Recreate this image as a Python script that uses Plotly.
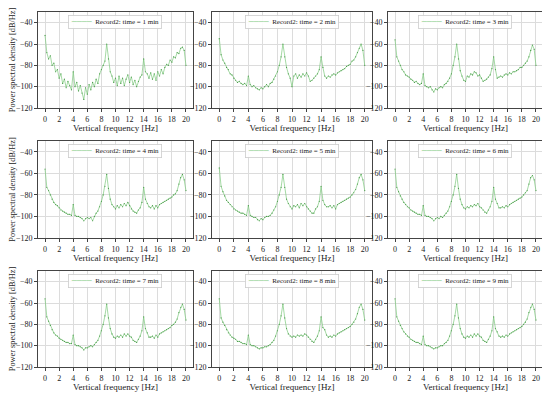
import plotly.graph_objects as go

FREQ = [0.0, 0.25, 0.5, 0.75, 1.0, 1.25, 1.5, 1.75, 2.0, 2.25,
        2.5, 2.75, 3.0, 3.25, 3.5, 3.75, 4.0, 4.25, 4.5, 4.75,
        5.0, 5.25, 5.5, 5.75, 6.0, 6.25, 6.5, 6.75, 7.0, 7.25,
        7.5, 7.75, 8.0, 8.25, 8.5, 8.75, 9.0, 9.25, 9.5, 9.75,
        10.0, 10.25, 10.5, 10.75, 11.0, 11.25, 11.5, 11.75, 12.0, 12.25,
        12.5, 12.75, 13.0, 13.25, 13.5, 13.75, 14.0, 14.25, 14.5, 14.75,
        15.0, 15.25, 15.5, 15.75, 16.0, 16.25, 16.5, 16.75, 17.0, 17.25,
        17.5, 17.75, 18.0, 18.25, 18.5, 18.75, 19.0, 19.25, 19.5, 19.75,
        20.0]

PSD_1 = [-52, -68, -74, -71, -80, -78, -86, -84, -92, -88,
         -97, -93, -101, -95, -99, -103, -86, -100, -96, -104,
         -99, -106, -112, -101, -107, -98, -103, -96, -100, -93,
         -97, -88, -84, -80, -76, -60, -74, -86, -90, -96,
         -92, -99, -90, -97, -92, -99, -93, -89, -96, -91,
         -98, -94, -100, -95, -91, -89, -74, -86, -88, -92,
         -87, -93, -88, -94, -86, -90, -84, -88, -82, -79,
         -80, -75, -77, -72, -73, -68, -69, -64, -63, -66,
         -80]
PSD_2 = [-55, -70, -75, -78, -82, -84, -88, -89, -92, -94,
         -96, -95, -97, -98, -97, -99, -90, -98, -100, -99,
         -101, -102, -103, -101, -102, -100, -98, -100, -97, -96,
         -93, -90, -86, -80, -72, -60, -72, -82, -88, -92,
         -100, -90, -88, -92, -89, -91, -88, -90, -87, -90,
         -95, -94, -92, -90, -88, -84, -72, -82, -90, -92,
         -90, -91, -89, -88, -89, -87, -86, -85, -84, -83,
         -81, -80, -79, -76, -75, -72, -68, -64, -60, -66,
         -80]
PSD_3 = [-56, -72, -76, -80, -84, -86, -89, -90, -91, -93,
         -94, -96, -95, -97, -98, -97, -88, -99, -100, -101,
         -100, -103, -105, -102, -103, -101, -100, -101, -98, -97,
         -95, -92, -88, -80, -72, -60, -74, -85, -90, -94,
         -95, -90, -91, -88, -89, -86, -87, -90, -89, -92,
         -95, -94, -93, -91, -89, -83, -72, -84, -92, -91,
         -90, -91, -89, -88, -89, -87, -88, -86, -86, -85,
         -84, -82, -82, -80, -78, -76, -72, -66, -61, -65,
         -80]
PSD_4 = [-56, -73, -76, -80, -84, -87, -89, -90, -92, -94,
         -95, -96, -97, -98, -98, -99, -89, -99, -100, -100,
         -101, -102, -104, -102, -101, -102, -101, -104, -100, -97,
         -95, -91, -86, -80, -72, -61, -74, -84, -89, -91,
         -93, -90, -92, -89, -91, -88, -90, -87, -90, -93,
         -95, -96, -97, -94, -92, -87, -73, -84, -88, -91,
         -92, -90, -93, -90, -92, -89, -88, -87, -86, -85,
         -84, -83, -82, -80, -79, -76, -70, -64, -61, -66,
         -76]
PSD_5 = [-55, -72, -77, -81, -85, -87, -89, -91, -93, -94,
         -95, -96, -97, -97, -98, -99, -90, -99, -100, -101,
         -101, -103, -104, -102, -103, -101, -100, -100, -99, -97,
         -94, -91, -86, -80, -73, -61, -73, -84, -88, -91,
         -93, -90, -91, -89, -92, -88, -90, -88, -91, -93,
         -95, -97, -97, -93, -91, -86, -72, -85, -89, -91,
         -91, -90, -92, -90, -93, -89, -88, -87, -86, -85,
         -84, -83, -82, -80, -78, -75, -70, -64, -61, -66,
         -76]
PSD_6 = [-56, -73, -77, -81, -84, -87, -89, -91, -92, -94,
         -95, -96, -97, -98, -98, -99, -90, -99, -100, -100,
         -101, -102, -104, -102, -101, -102, -100, -101, -99, -97,
         -95, -91, -86, -80, -72, -61, -74, -84, -89, -92,
         -93, -91, -92, -90, -91, -89, -90, -88, -91, -92,
         -94, -96, -97, -94, -91, -86, -73, -84, -88, -92,
         -92, -91, -92, -90, -91, -89, -88, -87, -86, -85,
         -84, -83, -82, -80, -78, -76, -70, -64, -62, -66,
         -76]
PSD_7 = [-56, -73, -77, -81, -85, -88, -90, -91, -93, -94,
         -95, -96, -97, -97, -98, -98, -90, -99, -100, -100,
         -101, -102, -104, -102, -102, -101, -100, -101, -99, -97,
         -95, -91, -86, -80, -72, -61, -74, -84, -89, -92,
         -93, -91, -92, -90, -92, -89, -91, -89, -91, -92,
         -95, -96, -97, -94, -91, -86, -73, -84, -88, -92,
         -92, -91, -93, -90, -92, -89, -88, -87, -86, -85,
         -84, -83, -81, -80, -78, -75, -69, -64, -61, -66,
         -76]
PSD_8 = [-56, -74, -78, -81, -85, -88, -90, -92, -93, -94,
         -96, -96, -97, -98, -98, -99, -90, -99, -100, -100,
         -101, -102, -103, -102, -102, -101, -101, -100, -99, -97,
         -95, -91, -86, -80, -72, -61, -74, -84, -89, -91,
         -92, -91, -92, -90, -91, -90, -91, -89, -90, -92,
         -94, -96, -97, -94, -91, -86, -73, -83, -85, -90,
         -92, -91, -92, -90, -91, -89, -88, -87, -86, -85,
         -84, -83, -82, -80, -78, -75, -70, -64, -61, -66,
         -76]
PSD_9 = [-56, -73, -77, -81, -84, -87, -89, -91, -92, -94,
         -95, -96, -97, -97, -98, -99, -91, -99, -100, -100,
         -101, -102, -103, -102, -102, -101, -100, -100, -98, -97,
         -95, -91, -86, -80, -72, -61, -74, -84, -89, -92,
         -93, -91, -92, -90, -92, -89, -91, -89, -91, -92,
         -95, -96, -97, -94, -91, -86, -73, -84, -87, -91,
         -92, -91, -92, -90, -91, -89, -88, -87, -86, -85,
         -84, -83, -82, -80, -78, -75, -69, -64, -61, -66,
         -76]

SERIES = [PSD_1, PSD_2, PSD_3, PSD_4, PSD_5, PSD_6, PSD_7, PSD_8, PSD_9]
MINUTES = [1, 2, 3, 4, 5, 6, 7, 8, 9]
X_TICKS = [0, 2, 4, 6, 8, 10, 12, 14, 16, 18, 20]
Y_TICKS = [-120, -100, -80, -60, -40]
X_TITLE = "Vertical frequency [Hz]"
Y_TITLE = "Power spectral density [dB/Hz]"

LINE_COLOR = "#7cc87c"
DOT_COLOR = "#4a9a4a"

# page offset of the plot div (default body margin)
OFF = 8
W, H = 542, 386
COLS_PX = [(38, 193), (212, 372), (388, 543)]
ROWS_PX = [(12, 108), (141, 238), (271, 367)]
FONT = "Liberation Serif"

fig = go.Figure()
layout = dict(width=W, height=H, margin=dict(l=0, r=0, t=0, b=0),
              paper_bgcolor="white", plot_bgcolor="white",
              showlegend=False,
              font=dict(family=FONT, size=8, color="#222"))
annotations = []

for k, (vals, minute) in enumerate(zip(SERIES, MINUTES)):
    i = k + 1
    r, c = divmod(k, 3)
    x0, x1 = COLS_PX[c]
    yt, yb = ROWS_PX[r]
    xd = [(x0 - OFF) / W, min(1.0, (x1 - OFF) / W)]
    yd = [1 - (yb - OFF) / H, 1 - (yt - OFF) / H]
    sfx = "" if i == 1 else str(i)
    name = f"Record2: time = {minute} min"
    fig.add_trace(go.Scatter(
        x=FREQ, y=vals, mode="lines+markers", name=name,
        line=dict(color=LINE_COLOR, width=0.7),
        marker=dict(color=DOT_COLOR, size=1.2),
        xaxis=f"x{sfx}", yaxis=f"y{sfx}"))
    common = dict(showline=True, mirror=True, linecolor="#444", linewidth=0.8,
                  showgrid=True, gridcolor="#dcdcdc", gridwidth=0.6,
                  zeroline=False, ticks="outside", ticklen=3, tickwidth=0.8,
                  tickcolor="#444", automargin=False,
                  tickfont=dict(family=FONT, size=8, color="#222"))
    layout[f"xaxis{sfx}"] = dict(common, domain=xd, range=[-1, 21],
                                 tickvals=X_TICKS, anchor=f"y{sfx}",
                                 title=dict(text=X_TITLE, standoff=2,
                                            font=dict(family=FONT, size=9, color="#222")))
    ydict = dict(common, domain=yd, range=[-120, -30], tickvals=Y_TICKS,
                 anchor=f"x{sfx}")
    if c == 0:
        ydict["title"] = dict(text=Y_TITLE, standoff=4,
                              font=dict(family=FONT, size=8.3, color="#222"))
    layout[f"yaxis{sfx}"] = ydict
    # legend box (line sample + label)
    annotations.append(dict(
        xref="paper", yref="paper",
        x=(xd[0] + xd[1]) / 2, xanchor="center",
        y=yd[1] - 3 / H, yanchor="top", showarrow=False,
        text=f'<span style="color:{LINE_COLOR}">────</span>  {name}',
        font=dict(family=FONT, size=7, color="#222"),
        bgcolor="rgba(255,255,255,0.9)", bordercolor="#cccccc",
        borderwidth=0.8, borderpad=2))

layout["annotations"] = annotations
fig.update_layout(**layout)
fig.write_html("out.html")
